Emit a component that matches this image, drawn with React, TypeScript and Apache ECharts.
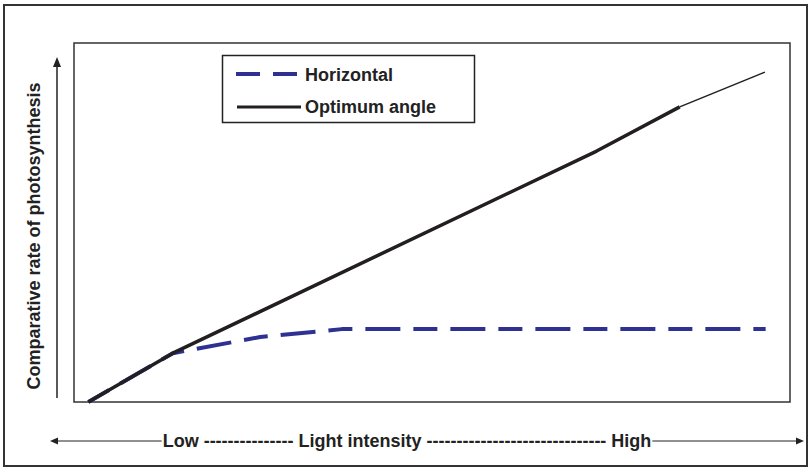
import React, { useEffect, useRef } from "react";
import * as echarts from "echarts";

// Relative light intensity (x) vs comparative photosynthesis rate (y), 0..100 scales
const optimumX = [2, 13.8, 73.0, 84.6];
const optimumY = [0, 13.6, 69.9, 82.2];
const optimumTailX = [84.6, 96.5];
const optimumTailY = [82.2, 91.9];
const horizontalX = [2, 13.8, 26.0, 37.4, 96.6];
const horizontalY = [0, 13.6, 18.1, 20.3, 20.3];

const seriesNames = ["Horizontal", "Optimum angle"];
const yTitle = "Comparative rate of photosynthesis";
const xTitle = "Low --------------- Light intensity ------------------------------ High";

const zip = (xs: number[], ys: number[]) => xs.map((x, i) => [x, ys[i]]);

export default function App() {
  const ref = useRef<HTMLDivElement>(null);
  useEffect(() => {
    if (!ref.current) return;
    const chart = echarts.init(ref.current, null, { renderer: "svg" });
    const font = "Liberation Sans, Arial, sans-serif";
    const black = "#231f20";
    const blue = "#2e3192";
    chart.setOption({
      animation: false,
      backgroundColor: "#fff",
      grid: {
        left: 74,
        top: 43,
        right: 22,
        bottom: 68,
        show: true,
        borderColor: "#333",
        borderWidth: 1.5,
        backgroundColor: "transparent",
      },
      xAxis: {
        type: "value",
        min: 0,
        max: 100,
        show: false,
      },
      yAxis: {
        type: "value",
        min: 0,
        max: 100,
        show: false,
      },
      series: [
        {
          name: seriesNames[0],
          type: "line",
          data: zip(horizontalX, horizontalY),
          symbol: "none",
          lineStyle: { color: blue, width: 4, type: [24, 13, 35, 13] },
          z: 2,
        },
        {
          name: seriesNames[1],
          type: "line",
          data: zip(optimumX, optimumY),
          symbol: "none",
          lineStyle: { color: black, width: 3.5 },
          z: 3,
        },
        {
          name: seriesNames[1] + " tail",
          type: "line",
          data: zip(optimumTailX, optimumTailY),
          symbol: "none",
          lineStyle: { color: black, width: 1.5 },
          z: 3,
        },
      ],
      graphic: [
        // outer border
        {
          type: "rect",
          shape: { x: 4, y: 5, width: 803, height: 461 },
          style: { fill: "none", stroke: "#333", lineWidth: 2 },
        },
        // legend box
        {
          type: "rect",
          shape: { x: 222.5, y: 55.5, width: 252, height: 67 },
          style: { fill: "#fff", stroke: "#222", lineWidth: 1.5 },
          z: 10,
        },
        {
          type: "line",
          shape: { x1: 236, y1: 74, x2: 297, y2: 74 },
          style: { stroke: blue, lineWidth: 4, lineDash: [24, 13] },
          z: 11,
        },
        {
          type: "line",
          shape: { x1: 237, y1: 107, x2: 301, y2: 107 },
          style: { stroke: black, lineWidth: 3 },
          z: 11,
        },
        {
          type: "text",
          x: 305,
          y: 75,
          style: {
            text: seriesNames[0],
            font: `bold 18px ${font}`,
            fill: "#222",
            verticalAlign: "middle",
            align: "left",
          },
          z: 11,
        },
        {
          type: "text",
          x: 305,
          y: 107,
          style: {
            text: seriesNames[1],
            font: `bold 18px ${font}`,
            fill: "#222",
            verticalAlign: "middle",
            align: "left",
          },
          z: 11,
        },
        // y arrow
        {
          type: "line",
          shape: { x1: 57, y1: 398, x2: 57, y2: 64 },
          style: { stroke: "#222", lineWidth: 1.5 },
        },
        {
          type: "polygon",
          shape: { points: [[57, 57], [53, 67], [61, 67]] },
          style: { fill: "#222" },
        },
        // y title
        {
          type: "text",
          x: 34,
          y: 236,
          rotation: Math.PI / 2,
          style: {
            text: yTitle,
            font: `bold 18px ${font}`,
            fill: "#222",
            align: "center",
            verticalAlign: "middle",
          },
        },
        // x arrow
        {
          type: "line",
          shape: { x1: 56, y1: 441, x2: 797, y2: 441 },
          style: { stroke: "#222", lineWidth: 1.2 },
        },
        {
          type: "polygon",
          shape: { points: [[50, 441], [58, 437.5], [58, 444.5]] },
          style: { fill: "#222" },
        },
        {
          type: "polygon",
          shape: { points: [[804, 441], [796, 437.5], [796, 444.5]] },
          style: { fill: "#222" },
        },
        {
          type: "text",
          x: 407,
          y: 441,
          style: {
            text: xTitle,
            font: `bold 18px ${font}`,
            fill: "#222",
            align: "center",
            verticalAlign: "middle",
            backgroundColor: "#fff",
            padding: [0, 1],
          },
          z: 5,
        },
      ],
    });
    return () => chart.dispose();
  }, []);
  return (
    <div
      ref={ref}
      style={{ position: "absolute", left: 0, top: 0, width: 812, height: 470 }}
    />
  );
}
